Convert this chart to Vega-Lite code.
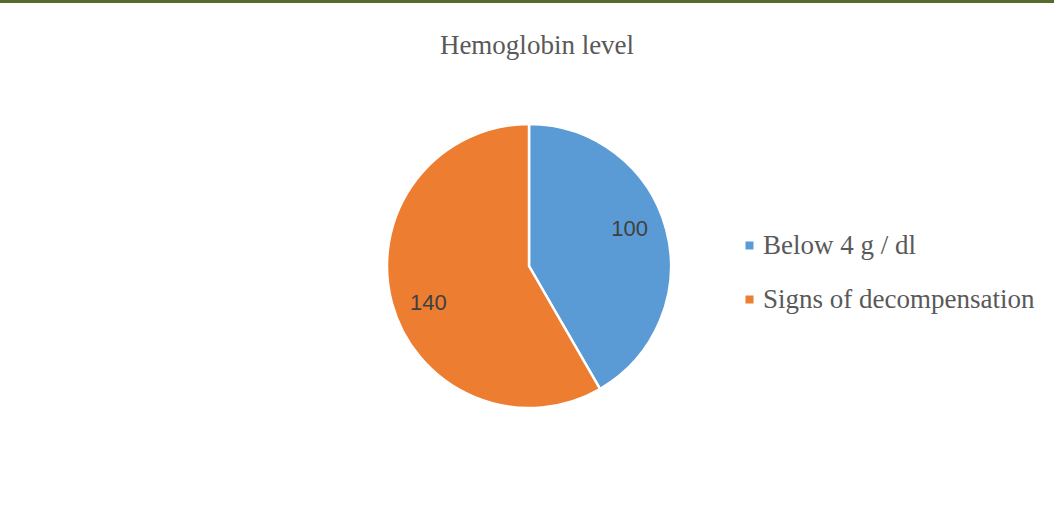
{
  "$schema": "https://vega.github.io/schema/vega-lite/v6.json",
  "width": 1058,
  "height": 526,
  "autosize": "none",
  "padding": {"top": 3, "left": 0, "right": 0, "bottom": 0},
  "background": "#57692b",
  "view": {"fill": "white", "stroke": null},
  "title": {
    "text": "Hemoglobin level",
    "font": "Liberation Serif",
    "fontSize": 27,
    "fontWeight": "normal",
    "color": "#595959",
    "anchor": "middle",
    "baseline": "alphabetic",
    "offset": -51,
    "dx": 8,
    "dy": 27
  },
  "data": {
    "values": [
      {"category": "Below 4 g / dl", "count": 100, "order": 1},
      {"category": "Signs of decompensation", "count": 140, "order": 2}
    ]
  },
  "layer": [
    {
      "mark": {"type": "arc", "radius": 142, "stroke": "white", "strokeWidth": 2.5},
      "encoding": {
        "theta": {"field": "count", "type": "quantitative", "stack": true},
        "order": {"field": "order", "type": "quantitative"},
        "color": {
          "field": "category",
          "type": "nominal",
          "scale": {"domain": ["Below 4 g / dl", "Signs of decompensation"], "range": ["#5B9BD5", "#ED7D31"]},
          "legend": {
            "title": null,
            "orient": "none",
            "legendX": 736,
            "legendY": 229,
            "symbolType": "square",
            "symbolSize": 64,
            "symbolStrokeWidth": 0,
            "labelFont": "Liberation Serif",
            "labelFontSize": 27,
            "labelColor": "#595959",
            "labelLimit": 0,
            "labelOffset": 0,
            "rowPadding": 26,
            "padding": 0
          }
        }
      }
    },
    {
      "mark": {"type": "text", "radius": 107, "font": "Liberation Sans", "fontSize": 22, "color": "#404040", "align": "center", "baseline": "middle"},
      "encoding": {
        "theta": {"field": "count", "type": "quantitative", "stack": true, "scale": {"range": [-0.0873, 6.1959]}},
        "order": {"field": "order", "type": "quantitative"},
        "text": {"field": "count", "type": "quantitative"}
      }
    }
  ],
  "resolve": {"scale": {"theta": "independent"}}
}
